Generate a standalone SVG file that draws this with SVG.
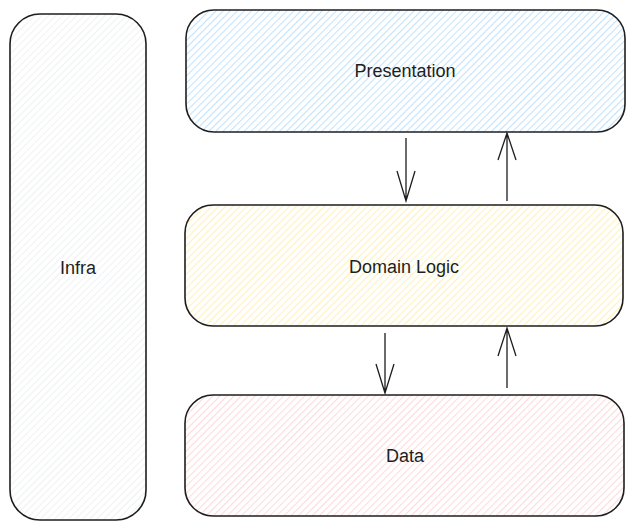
<svg xmlns="http://www.w3.org/2000/svg" width="635" height="529" viewBox="0 0 635 529">
<style>
.box{stroke:#1e1e1e;stroke-width:1.6;}
.lbl{font-family:"Liberation Sans","DejaVu Sans",sans-serif;font-size:18px;fill:#1e1e1e;text-anchor:middle;dominant-baseline:central;}
.conn{stroke:#1e1e1e;stroke-width:1.3;fill:none;}
</style>
<defs>
<pattern id="hb" width="5" height="5" patternUnits="userSpaceOnUse" patternTransform="rotate(45)"><rect width="5" height="5" fill="#ffffff"/><line x1="0" y1="0" x2="0" y2="5" stroke="#a5d8ff" stroke-width="1.4"/></pattern>
<pattern id="hy" width="5" height="5" patternUnits="userSpaceOnUse" patternTransform="rotate(45)"><rect width="5" height="5" fill="#ffffff"/><line x1="0" y1="0" x2="0" y2="5" stroke="#ffec99" stroke-width="1.4"/></pattern>
<pattern id="hr" width="5" height="5" patternUnits="userSpaceOnUse" patternTransform="rotate(45)"><rect width="5" height="5" fill="#ffffff"/><line x1="0" y1="0" x2="0" y2="5" stroke="#ffc9c9" stroke-width="1.4"/></pattern>
<pattern id="hg" width="5" height="5" patternUnits="userSpaceOnUse" patternTransform="rotate(45)"><rect width="5" height="5" fill="#ffffff"/><line x1="0" y1="0" x2="0" y2="5" stroke="#e9ecef" stroke-width="1.4"/></pattern>
</defs>
<rect width="635" height="529" fill="#ffffff"/>
<g id="infra">
<rect class="box" x="10" y="14" width="136" height="506" rx="30" fill="url(#hg)"/>
<text class="lbl" x="78" y="268">Infra</text>
</g>
<g id="presentation">
<rect class="box" x="186" y="10" width="439" height="122" rx="28" fill="url(#hb)"/>
<text class="lbl" x="405" y="71">Presentation</text>
</g>
<g id="domain">
<rect class="box" x="185" y="205" width="438" height="121" rx="28" fill="url(#hy)"/>
<text class="lbl" x="404" y="267">Domain Logic</text>
</g>
<g id="data">
<rect class="box" x="185" y="395" width="439" height="121" rx="28" fill="url(#hr)"/>
<text class="lbl" x="405" y="456">Data</text>
</g>
<g id="connectors">
<path class="conn" d="M406 138 L406 201 M397 171 L406 201 L415 171"/>
<path class="conn" d="M507 201 L507 133 M498 160 L507 133 L516 160"/>
<path class="conn" d="M385 333 L385 393 M376 364 L385 393 L394 364"/>
<path class="conn" d="M507 388 L507 328 M498 356 L507 328 L516 356"/>
</g>
</svg>
